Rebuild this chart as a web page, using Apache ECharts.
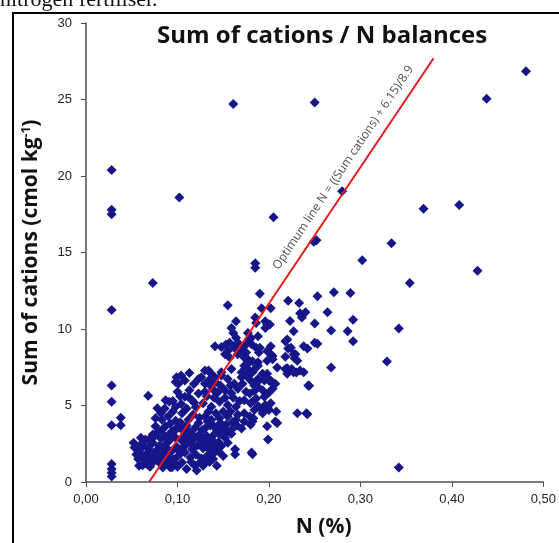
<!DOCTYPE html>
<html>
<head>
<meta charset="utf-8">
<script src="https://cdn.jsdelivr.net/npm/echarts@6/dist/echarts.min.js"></script>
<style>
  html, body { margin: 0; padding: 0; background: #fff; }
  #chart-container { width: 559px; height: 543px; }
</style>
</head>
<body>
<div id="chart-container"></div>
<script>
// [N %, sum of cations cmol/kg]
var sparsePoints = [
  [0.028, 20.4], [0.028, 17.8], [0.028, 17.5], [0.161, 24.7], [0.102, 18.6], [0.205, 17.3],
  [0.185, 14.3], [0.185, 14.0], [0.481, 26.85], [0.438, 25.05], [0.250, 24.8], [0.280, 19.0],
  [0.369, 17.86], [0.408, 18.1], [0.334, 15.6], [0.249, 15.7], [0.252, 15.8], [0.302, 14.5],
  [0.428, 13.8], [0.354, 13.0], [0.028, 11.24], [0.073, 13.0], [0.028, 6.31], [0.028, 5.25],
  [0.028, 3.71], [0.038, 4.2], [0.038, 3.71], [0.028, 1.18], [0.028, 0.85], [0.028, 0.6],
  [0.028, 0.36], [0.342, 10.04], [0.329, 7.88], [0.342, 0.94], [0.268, 7.49], [0.244, 6.29],
  [0.242, 4.43], [0.199, 2.78], [0.182, 1.82], [0.163, 1.82], [0.163, 2.14], [0.181, 1.93]
];
var upperPoints = [
  [0.155, 11.56], [0.190, 12.3], [0.192, 11.35], [0.202, 11.35], [0.221, 11.84], [0.233, 11.7],
  [0.253, 12.14], [0.271, 12.4], [0.289, 12.35], [0.264, 11.09], [0.234, 11.03], [0.240, 11.09],
  [0.236, 10.75], [0.223, 10.53], [0.227, 9.85], [0.250, 10.36], [0.292, 10.6], [0.268, 9.91],
  [0.286, 9.85], [0.292, 9.2], [0.250, 9.1], [0.253, 9.04], [0.242, 8.73], [0.218, 9.2],
  [0.221, 8.73], [0.227, 8.35], [0.228, 8.09], [0.218, 8.18], [0.220, 7.43], [0.230, 7.15],
  [0.238, 7.17], [0.185, 10.75], [0.196, 10.5], [0.198, 10.3], [0.201, 10.3], [0.188, 9.53],
  [0.190, 8.78], [0.202, 8.88], [0.204, 8.24], [0.181, 9.0], [0.188, 7.82], [0.183, 7.28],
  [0.164, 10.5], [0.159, 10.06], [0.161, 9.74], [0.177, 9.74], [0.180, 9.42], [0.164, 9.42],
  [0.166, 9.1], [0.170, 8.56], [0.175, 8.99], [0.179, 9.31], [0.141, 8.88], [0.148, 8.82],
  [0.153, 8.99], [0.152, 8.35], [0.157, 8.14], [0.186, 10.4], [0.196, 10.06], [0.157, 9.1],
  [0.162, 8.78], [0.186, 8.78], [0.220, 9.31], [0.224, 8.78], [0.238, 8.88]
];
var midPoints = [
  [0.173, 7.6], [0.177, 7.39], [0.182, 7.17], [0.175, 6.96], [0.180, 6.63], [0.171, 6.42],
  [0.184, 6.31], [0.188, 6.21], [0.179, 5.78], [0.173, 5.35], [0.180, 5.14], [0.186, 5.46],
  [0.173, 4.5], [0.179, 4.28], [0.173, 3.96], [0.180, 3.75], [0.184, 4.71], [0.198, 7.07],
  [0.202, 6.63], [0.207, 6.42], [0.204, 6.1], [0.193, 5.99], [0.195, 5.57], [0.202, 5.14],
  [0.188, 4.92], [0.193, 4.5], [0.200, 4.71], [0.207, 3.96], [0.198, 3.64], [0.193, 7.07],
  [0.189, 6.63], [0.200, 6.63], [0.204, 6.42], [0.184, 5.35], [0.193, 4.71], [0.199, 4.82],
  [0.208, 4.6], [0.182, 3.96], [0.209, 3.85], [0.225, 7.39], [0.243, 6.31], [0.241, 4.5],
  [0.231, 4.5],
  [0.134, 7.28], [0.137, 7.07], [0.130, 7.28], [0.148, 7.17], [0.159, 7.39], [0.170, 7.17],
  [0.188, 7.6], [0.209, 7.49], [0.218, 7.39], [0.220, 7.07], [0.227, 7.17], [0.234, 7.28],
  [0.173, 8.14], [0.178, 7.8], [0.182, 7.9], [0.177, 8.03], [0.166, 8.35], [0.175, 8.46],
  [0.189, 8.46], [0.198, 8.56], [0.202, 8.35], [0.204, 8.03], [0.198, 7.92], [0.229, 8.35],
  [0.231, 7.92], [0.155, 8.56], [0.170, 8.67],
  [0.099, 6.85], [0.101, 6.42], [0.108, 6.63], [0.123, 6.74], [0.126, 6.85], [0.134, 6.63],
  [0.141, 6.85], [0.148, 6.96], [0.155, 6.74], [0.162, 6.42], [0.170, 6.85], [0.177, 6.96],
  [0.188, 6.74], [0.195, 6.63], [0.098, 6.53], [0.104, 6.96], [0.113, 7.13], [0.130, 6.42],
  [0.141, 6.53],
  [0.068, 5.63], [0.123, 5.78], [0.113, 6.0], [0.130, 5.9], [0.139, 6.05], [0.144, 5.85],
  [0.152, 6.0], [0.159, 5.8], [0.166, 6.1], [0.175, 5.9], [0.184, 5.95], [0.200, 5.85],
  [0.100, 5.9], [0.158, 6.3], [0.147, 6.3], [0.136, 6.3], [0.118, 6.4],
  [0.168, 5.3], [0.161, 5.5], [0.152, 5.5], [0.140, 5.5], [0.132, 5.6], [0.118, 5.2],
  [0.112, 5.55], [0.103, 5.6], [0.095, 5.3]
];
var corePoints = [
  [0.078, 4.82], [0.087, 5.35], [0.091, 5.25], [0.098, 4.92], [0.104, 5.1], [0.108, 5.57],
  [0.116, 5.35], [0.120, 4.9], [0.128, 5.14], [0.137, 4.92], [0.146, 5.25], [0.155, 5.03],
  [0.164, 4.92], [0.189, 4.92], [0.196, 5.03], [0.158, 4.6], [0.150, 4.6], [0.142, 4.5],
  [0.134, 4.6], [0.110, 4.8], [0.095, 4.6], [0.086, 4.8], [0.166, 4.4],
  [0.076, 4.17], [0.083, 4.07], [0.082, 4.5], [0.090, 4.3], [0.098, 4.0], [0.105, 4.5],
  [0.112, 4.07], [0.117, 4.4], [0.124, 4.2], [0.130, 4.28], [0.137, 4.07], [0.146, 4.17],
  [0.155, 4.28], [0.164, 4.07], [0.183, 4.17], [0.160, 3.9],
  [0.073, 3.1], [0.076, 3.64], [0.083, 3.4], [0.087, 3.64], [0.094, 3.32], [0.100, 3.6],
  [0.105, 3.42], [0.112, 3.32], [0.119, 3.53], [0.123, 3.85], [0.130, 3.5], [0.136, 3.7],
  [0.143, 3.4], [0.149, 3.6], [0.155, 3.3], [0.159, 3.42], [0.165, 3.7], [0.170, 3.5],
  [0.079, 3.3], [0.086, 3.0], [0.092, 3.8], [0.097, 3.35], [0.103, 3.9], [0.110, 3.7],
  [0.116, 3.1], [0.127, 3.4], [0.133, 3.95], [0.140, 3.65], [0.147, 3.85], [0.153, 3.75],
  [0.151, 3.3],
  [0.060, 2.9], [0.065, 2.78], [0.069, 2.78], [0.075, 3.0], [0.082, 2.85], [0.090, 3.05],
  [0.098, 2.89], [0.105, 2.68], [0.112, 2.78], [0.119, 2.89], [0.126, 2.78], [0.132, 3.0],
  [0.138, 2.75], [0.146, 3.1], [0.152, 2.9], [0.159, 3.15], [0.140, 3.1], [0.091, 2.7],
  [0.107, 3.0], [0.124, 3.1], [0.133, 2.7], [0.145, 2.6],
  [0.052, 2.57], [0.053, 2.25], [0.058, 2.04], [0.063, 2.35], [0.069, 2.14], [0.073, 2.57],
  [0.080, 2.36], [0.087, 2.46], [0.094, 2.04], [0.099, 2.3], [0.105, 2.2], [0.110, 2.5],
  [0.116, 2.14], [0.122, 2.4], [0.128, 2.2], [0.134, 2.45], [0.141, 2.3], [0.148, 2.36],
  [0.155, 2.57], [0.145, 2.0], [0.060, 2.45], [0.070, 2.4], [0.078, 2.1], [0.084, 2.2],
  [0.090, 2.1], [0.108, 2.35], [0.114, 2.6], [0.118, 2.3], [0.129, 2.55], [0.135, 2.1],
  [0.057, 1.5], [0.062, 1.71], [0.065, 1.39], [0.072, 1.6], [0.076, 1.93], [0.083, 1.75],
  [0.087, 1.82], [0.093, 1.6], [0.101, 1.71], [0.108, 1.93], [0.114, 1.6], [0.120, 1.8],
  [0.126, 1.55], [0.133, 1.75], [0.140, 1.9], [0.150, 1.7], [0.055, 1.8], [0.067, 1.9],
  [0.079, 1.55], [0.096, 1.45], [0.103, 1.95],
  [0.058, 1.07], [0.066, 1.2], [0.080, 1.28], [0.087, 1.39], [0.092, 0.96], [0.098, 1.18],
  [0.105, 1.28], [0.110, 0.85], [0.119, 1.07], [0.121, 0.75], [0.130, 1.28], [0.143, 1.07],
  [0.089, 1.28], [0.073, 1.28], [0.064, 1.5], [0.094, 0.96], [0.128, 1.07], [0.139, 1.5],
  [0.115, 1.3], [0.125, 1.3], [0.135, 1.3], [0.100, 1.0], [0.084, 0.95], [0.070, 1.0],
  [0.062, 1.1]
];
var optimumLine = [[0.069, 0], [0.38, 27.7]];
var optimumLabel = 'Optimum line N = ((Sum cations) + 6.15)/8.9';

var allPoints = sparsePoints.concat(upperPoints, midPoints, corePoints);

var dom = document.getElementById('chart-container');
var myChart = echarts.init(dom, null, { renderer: 'canvas' });

var axisColor = '#4b4b66';
var option = {
  animation: false,
  backgroundColor: '#fff',
  title: {
    text: 'Sum of cations / N balances',
    left: 152,
    top: 19,
    textStyle: { fontFamily: 'Open Sans', fontWeight: 'bold', fontSize: 24, color: '#111' }
  },
  graphic: [
    {
      type: 'text', left: 0, top: -11, silent: true,
      style: { text: 'nitrogen fertiliser.', font: '22px "Liberation Serif"', fill: '#111' }
    },
    {
      type: 'polyline', silent: true,
      shape: { points: [[13, 560], [13, 13], [570, 13]] },
      style: { stroke: '#000', lineWidth: 2, fill: null }
    }
  ],
  grid: { left: 86, right: 9, top: 23, bottom: 53 },
  xAxis: {
    type: 'value',
    min: 0, max: 0.5, interval: 0.1,
    name: 'N (%)',
    nameLocation: 'middle',
    nameGap: 35,
    nameTextStyle: {
      fontFamily: 'Open Sans', fontWeight: 'bold', fontSize: 21, color: '#111',
      padding: [0, 0, 0, 18]
    },
    axisLine: { lineStyle: { color: axisColor, width: 1.5 } },
    axisTick: { show: true, length: 5, lineStyle: { color: axisColor } },
    splitLine: { show: false },
    axisLabel: {
      margin: 11, fontFamily: 'Liberation Sans', fontSize: 13, color: '#222',
      showMaxLabel: true,
      formatter: function (v) { return v.toFixed(2).replace('.', ','); }
    }
  },
  yAxis: {
    type: 'value',
    min: 0, max: 30, interval: 5,
    name: 'Sum of cations (cmol kg{sup|-1})',
    nameLocation: 'middle',
    nameRotate: 90,
    nameGap: 44,
    nameTextStyle: {
      fontFamily: 'Open Sans', fontWeight: 'bold', fontSize: 21, color: '#111',
      rich: { sup: { fontFamily: 'Open Sans', fontWeight: 'bold', fontSize: 12, verticalAlign: 'top', padding: [0, 0, 9, 0] } }
    },
    axisLine: { show: true, lineStyle: { color: axisColor, width: 1.5 } },
    axisTick: { show: true, length: 5, lineStyle: { color: axisColor } },
    splitLine: { show: false },
    axisLabel: { margin: 14, fontFamily: 'Liberation Sans', fontSize: 13, color: '#222' }
  },
  series: [
    {
      name: 'samples',
      type: 'scatter',
      symbol: 'diamond',
      symbolSize: 10,
      itemStyle: { color: '#16168a', opacity: 1 },
      data: allPoints,
      markLine: {
        silent: true,
        symbol: 'none',
        z: 5,
        lineStyle: { color: '#e8191b', width: 2, type: 'solid' },
        label: {
          show: true,
          position: 'insideEndTop',
          distance: [20, 8],
          formatter: optimumLabel,
          fontFamily: 'Open Sans',
          fontSize: 12,
          color: '#505050'
        },
        data: [[{ coord: optimumLine[0] }, { coord: optimumLine[1] }]]
      }
    }
  ]
};

myChart.setOption(option);
window.addEventListener('resize', myChart.resize);
</script>
</body>
</html>
